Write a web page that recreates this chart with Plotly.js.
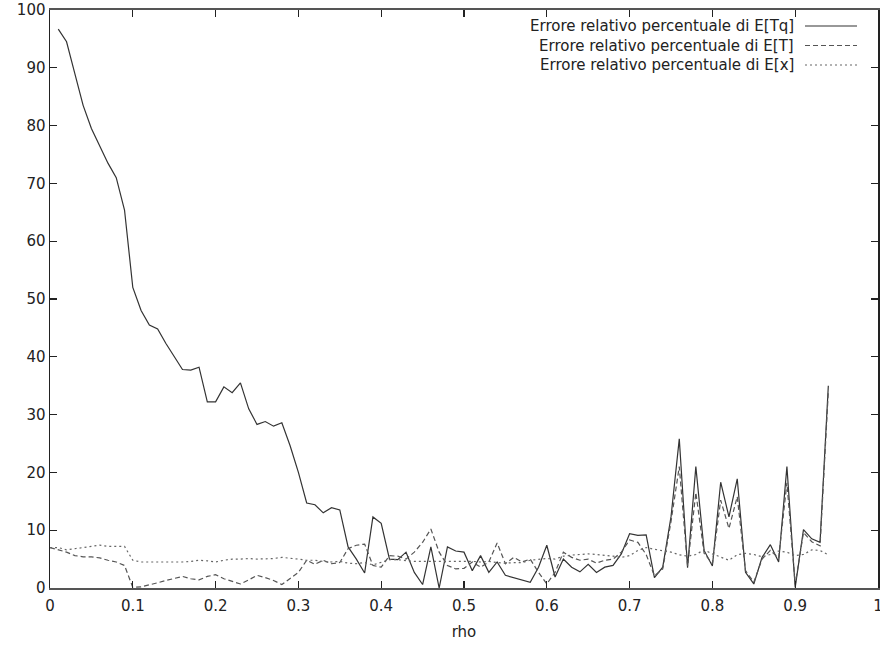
<!DOCTYPE html>
<html>
<head>
<meta charset="utf-8">
<script src="https://cdn.plot.ly/plotly-3.0.1.min.js"></script>
<style>
html,body{margin:0;padding:0;background:#fff;}
#chart{width:880px;height:647px;}
</style>
</head>
<body>
<div id="chart"></div>
<script>
// rho values (x axis)
var rhoTq = [0.01,0.02,0.03,0.04,0.05,0.06,0.07,0.08,0.09,0.10,
  0.11,0.12,0.13,0.14,0.15,0.16,0.17,0.18,0.19,0.20,
  0.21,0.22,0.23,0.24,0.25,0.26,0.27,0.28,0.29,0.30,
  0.31,0.32,0.33,0.34,0.35,0.36,0.37,0.38,0.39,0.40,
  0.41,0.42,0.43,0.44,0.45,0.46,0.47,0.48,0.49,0.50,
  0.51,0.52,0.53,0.54,0.55,0.56,0.57,0.58,0.59,0.60,
  0.61,0.62,0.63,0.64,0.65,0.66,0.67,0.68,0.69,0.70,
  0.71,0.72,0.73,0.74,0.75,0.76,0.77,0.78,0.79,0.80,
  0.81,0.82,0.83,0.84,0.85,0.86,0.87,0.88,0.89,0.90,
  0.91,0.92,0.93,0.94];
var rhoAll = [0.00,0.01,0.02,0.03,0.04,0.05,0.06,0.07,0.08,0.09,0.10,
  0.11,0.12,0.13,0.14,0.15,0.16,0.17,0.18,0.19,0.20,
  0.21,0.22,0.23,0.24,0.25,0.26,0.27,0.28,0.29,0.30,
  0.31,0.32,0.33,0.34,0.35,0.36,0.37,0.38,0.39,0.40,
  0.41,0.42,0.43,0.44,0.45,0.46,0.47,0.48,0.49,0.50,
  0.51,0.52,0.53,0.54,0.55,0.56,0.57,0.58,0.59,0.60,
  0.61,0.62,0.63,0.64,0.65,0.66,0.67,0.68,0.69,0.70,
  0.71,0.72,0.73,0.74,0.75,0.76,0.77,0.78,0.79,0.80,
  0.81,0.82,0.83,0.84,0.85,0.86,0.87,0.88,0.89,0.90,
  0.91,0.92,0.93,0.94];

// Errore relativo percentuale di E[Tq]
var errTq = [96.7,94.5,89.0,83.5,79.5,76.5,73.5,71.0,65.4,52.0,
  48.0,45.5,44.8,42.3,40.0,37.8,37.7,38.2,32.2,32.2,
  34.8,33.8,35.5,31.0,28.3,28.8,28.0,28.6,24.6,20.0,
  14.7,14.4,13.0,13.9,13.5,7.1,5.0,2.6,12.3,11.2,
  5.0,4.9,6.2,2.7,0.6,7.1,0.0,7.1,6.4,6.2,
  3.0,5.6,2.7,4.5,2.2,1.8,1.4,1.0,3.6,7.4,
  1.9,5.0,3.6,2.8,4.1,2.7,3.6,3.9,5.9,9.4,
  9.1,9.2,1.8,3.6,12.3,25.8,3.5,21.0,6.5,3.8,
  18.3,12.3,18.9,2.7,0.7,5.3,7.5,4.5,21.0,0.1,
  10.1,8.5,7.9,35.0];

// Errore relativo percentuale di E[T]
var errT = [7.0,6.6,6.2,5.6,5.4,5.4,5.2,4.8,4.5,3.9,0.1,
  0.2,0.5,0.9,1.3,1.6,2.0,1.6,1.4,2.0,2.3,
  1.6,1.2,0.7,1.4,2.2,1.8,1.3,0.6,1.6,2.7,
  4.8,4.1,4.8,4.2,4.4,6.8,7.4,7.6,3.9,3.6,
  5.6,5.5,5.0,6.2,7.9,10.2,6.2,3.9,3.3,3.4,
  4.5,3.6,4.5,7.8,4.2,5.3,4.5,5.0,2.7,0.7,
  2.7,6.2,5.3,4.8,5.0,4.3,4.8,5.0,6.2,8.3,
  7.9,5.8,2.1,3.3,11.5,21.0,3.8,16.5,6.0,4.2,
  15.2,10.3,15.8,3.0,1.0,5.0,6.5,5.2,18.2,0.6,
  9.6,8.0,7.3,34.0];

// Errore relativo percentuale di E[x]
var errX = [7.0,7.0,6.6,6.8,7.0,7.2,7.4,7.2,7.2,7.2,4.8,
  4.5,4.5,4.5,4.5,4.4,4.5,4.6,4.8,4.7,4.5,
  4.8,5.0,5.0,5.1,5.0,5.0,5.1,5.3,5.2,5.0,
  4.8,4.8,4.6,4.5,4.6,4.3,4.2,4.4,4.0,4.4,
  4.9,4.9,4.7,4.6,4.6,4.6,4.6,4.6,4.6,4.7,
  4.6,4.5,4.6,4.4,4.3,4.4,4.4,4.8,5.0,5.1,
  5.0,5.5,5.7,5.8,5.9,5.8,5.7,5.5,5.3,5.6,
  6.5,7.0,6.7,6.5,6.2,5.75,5.5,5.8,6.6,5.9,
  5.3,4.8,5.75,6.0,5.8,5.4,5.8,6.4,6.2,5.6,
  5.8,6.6,6.5,5.75];

var xTicks = [0,0.1,0.2,0.3,0.4,0.5,0.6,0.7,0.8,0.9,1];
var xTickText = ["0","0.1","0.2","0.3","0.4","0.5","0.6","0.7","0.8","0.9","1"];
var yTicks = [0,10,20,30,40,50,60,70,80,90,100];

var legendNames = [
  "Errore relativo percentuale di E[Tq]",
  "Errore relativo percentuale di E[T]",
  "Errore relativo percentuale di E[x]"
];

var fontFam = "DejaVu Sans, Liberation Sans, Arial, sans-serif";
var styles = [
  {color:"#333", width:1.2, dash:"solid"},
  {color:"#555", width:1.2, dash:"5px,3px"},
  {color:"#666", width:1.2, dash:"2px,3px"}
];

var traces = [
  {x: rhoTq, y: errTq, type:"scatter", mode:"lines", name: legendNames[0], line: styles[0]},
  {x: rhoAll, y: errT, type:"scatter", mode:"lines", name: legendNames[1], line: styles[1]},
  {x: rhoAll, y: errX, type:"scatter", mode:"lines", name: legendNames[2], line: styles[2]}
];

// gnuplot-style key (text right, sample on right)
var W = 828, H = 578, L = 50, T = 10;
var rowsY = [26, 45.5, 65];
var annotations = [], shapes = [];
for (var i = 0; i < 3; i++) {
  var py = (T + H - rowsY[i]) / H;
  annotations.push({
    xref:"paper", yref:"paper", x:(795 - L)/W, y:py,
    xanchor:"right", yanchor:"middle", showarrow:false, borderpad:0,
    text: legendNames[i], font:{family:fontFam, size:15, color:"#222"}
  });
  shapes.push({
    type:"line", xref:"paper", yref:"paper",
    x0:(805 - L)/W, x1:(857 - L)/W, y0:py, y1:py,
    line:{color:styles[i].color, width:styles[i].width, dash:styles[i].dash}
  });
}

var layout = {
  width: 880, height: 647,
  margin: {l: L, r: 2, t: T, b: 59, pad: 0},
  paper_bgcolor: "#fff", plot_bgcolor: "#fff",
  showlegend: false,
  font: {family: fontFam, size: 15, color: "#222"},
  xaxis: {
    range: [0, 1], tickvals: xTicks, ticktext: xTickText,
    ticks: "inside", ticklen: 7, tickwidth: 1.2, tickcolor: "#222",
    showline: true, linecolor: "#555", linewidth: 2, mirror: "ticks",
    showgrid: false, zeroline: false, ticklabeloverflow: "allow",
    ticklabelstandoff: 3,
    title: {text: "rho", font: {size: 15, color: "#222"}, standoff: 12},
    tickfont: {size: 15, color: "#222"}
  },
  yaxis: {
    range: [0, 100], tickvals: yTicks,
    ticks: "inside", ticklen: 7, tickwidth: 1.2, tickcolor: "#222",
    showline: true, linecolor: "#222", linewidth: 1.5, mirror: "ticks",
    showgrid: false, zeroline: false,
    tickfont: {size: 15, color: "#222"}
  },
  annotations: annotations,
  shapes: shapes
};

Plotly.newPlot("chart", traces, layout, {displayModeBar: false, staticPlot: true});
</script>
</body>
</html>
